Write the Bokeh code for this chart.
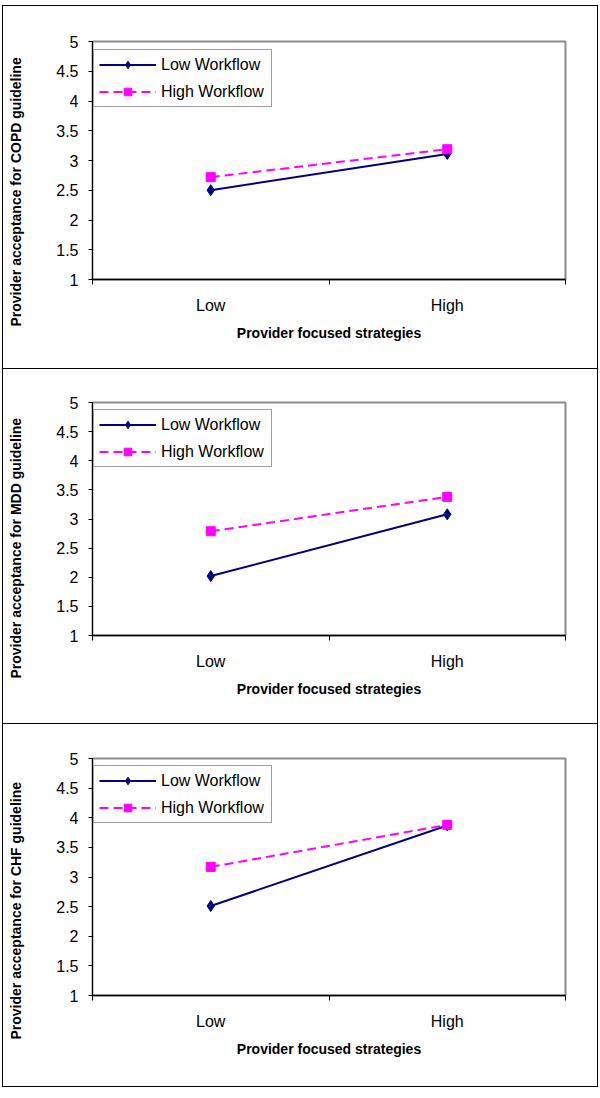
from bokeh.plotting import figure
from bokeh.models import FixedTicker, Legend, LegendItem, Title, NumeralTickFormatter, Range1d
from bokeh.layouts import column
from bokeh.embed import file_html
from bokeh.resources import INLINE

# ---------------- data ----------------
strategy_levels = ["Low", "High"]
series_names = ["Low Workflow", "High Workflow"]
guidelines = ["COPD", "MDD", "CHF"]
y_ticks = [1, 1.5, 2, 2.5, 3, 3.5, 4, 4.5, 5]

copd_low_workflow = [2.50, 3.11]
copd_high_workflow = [2.72, 3.19]
mdd_low_workflow = [2.02, 3.08]
mdd_high_workflow = [2.79, 3.38]
chf_low_workflow = [2.51, 3.87]
chf_high_workflow = [3.17, 3.88]

x_title = "Provider focused strategies"
y_title_template = "Provider acceptance for {} guideline"

# ---------------- styling / layout ----------------
FONT = "Liberation Sans"
NAVY = "#000080"
MAGENTA = "#FF00FF"
FIG_W = 596
BORDER_L, BORDER_R = 89, 34
panel_layout = [  # (content height, top border, frame height, y-title offset, css borders)
    (362, 35, 236, -47, 2),
    (354, 33, 232, -43, 1),
    (362, 34, 236, -44, 1),
]


def make_panel(guideline, low_vals, high_vals, height, top, frame_h, t_off, nb, first):
    bottom = height - top - frame_h
    n = len(strategy_levels)
    p = figure(width=FIG_W, height=height + nb,
               x_range=Range1d(0, n), y_range=Range1d(y_ticks[0], y_ticks[-1]),
               output_backend="svg", toolbar_location=None,
               min_border_left=BORDER_L, min_border_right=BORDER_R,
               min_border_top=top, min_border_bottom=bottom,
               background_fill_color="white", border_fill_color="white")
    p.xgrid.visible = False
    p.ygrid.visible = False
    p.outline_line_color = "#8c8c8c"
    p.outline_line_width = 2

    x_pos = [i + 0.5 for i in range(n)]
    boundaries = list(range(n + 1))

    # y axis
    ya = p.yaxis[0]
    ya.ticker = FixedTicker(ticks=y_ticks)
    ya.formatter = NumeralTickFormatter(format="0.[0]")
    ya.axis_line_color = "black"
    ya.axis_line_width = 1
    ya.major_tick_line_color = "black"
    ya.major_tick_out = 4
    ya.major_tick_in = 0
    ya.minor_tick_line_color = None
    ya.major_label_text_font = FONT
    ya.major_label_text_font_size = "16px"
    ya.major_label_text_color = "black"
    ya.major_label_standoff = 10
    # blank spacer label: pushes the (offset) title further out
    ya.axis_label = " "
    ya.axis_label_text_font_size = "14px"
    ya.axis_label_standoff = 11

    # x axis
    xa = p.xaxis[0]
    xa.ticker = FixedTicker(ticks=x_pos, minor_ticks=boundaries)
    xa.major_label_overrides = {x: lbl for x, lbl in zip(x_pos, strategy_levels)}
    xa.axis_line_color = "black"
    xa.axis_line_width = 1.5
    xa.major_tick_out = 0
    xa.major_tick_in = 0
    xa.major_tick_line_color = None
    xa.minor_tick_out = 5
    xa.minor_tick_in = 0
    xa.minor_tick_line_color = "black"
    xa.major_label_text_font = FONT
    xa.major_label_text_font_size = "16px"
    xa.major_label_text_color = "black"
    xa.major_label_standoff = 12
    xa.axis_label = x_title
    xa.axis_label_text_font = FONT
    xa.axis_label_text_font_size = "14px"
    xa.axis_label_text_font_style = "bold"
    xa.axis_label_text_color = "black"
    xa.axis_label_standoff = 8

    # series
    l1 = p.line(x_pos, low_vals, line_color=NAVY, line_width=2)
    s1 = p.scatter(x_pos, low_vals, marker="diamond", size=11,
                   fill_color=NAVY, line_color=NAVY)
    l2 = p.line(x_pos, high_vals, line_color=MAGENTA, line_width=2, line_dash="9 5")
    s2 = p.scatter(x_pos, high_vals, marker="square", size=9,
                   fill_color=MAGENTA, line_color=MAGENTA)

    legend_h = 58
    legend = Legend(
        items=[LegendItem(label=series_names[0], renderers=[l1, s1]),
               LegendItem(label=series_names[1], renderers=[l2, s2])],
        location=(1, frame_h - 6 - legend_h),
        padding=5, spacing=8, margin=0,
        glyph_height=19, glyph_width=57, label_height=19, label_width=105,
        label_standoff=5,
        label_text_font=FONT, label_text_font_size="16px", label_text_color="black",
        border_line_color="#404040", border_line_width=1.5,
        background_fill_color="white", background_fill_alpha=1.0,
    )
    p.add_layout(legend)

    # vertical y title, placed like the original (start below the frame bottom)
    p.add_layout(Title(text=y_title_template.format(guideline),
                       align="left", offset=t_off, standoff=0,
                       text_font=FONT, text_font_size="14px", text_font_style="bold",
                       text_color="black"), "left")

    st = {"border-left": "1px solid black", "border-right": "1px solid black",
          "border-bottom": "1px solid black", "margin-left": "2px"}
    if first:
        st["border-top"] = "1px solid black"
        st["margin-top"] = "5px"
    p.styles = st
    return p


series = [(copd_low_workflow, copd_high_workflow),
          (mdd_low_workflow, mdd_high_workflow),
          (chf_low_workflow, chf_high_workflow)]

panels = []
for i, (g, (lo, hi), (h, t, fh, off, nb)) in enumerate(zip(guidelines, series, panel_layout)):
    panels.append(make_panel(g, lo, hi, h, t, fh, off, nb, i == 0))

layout = column(*panels, spacing=0)

open("out.html", "w").write(file_html(layout, INLINE))
